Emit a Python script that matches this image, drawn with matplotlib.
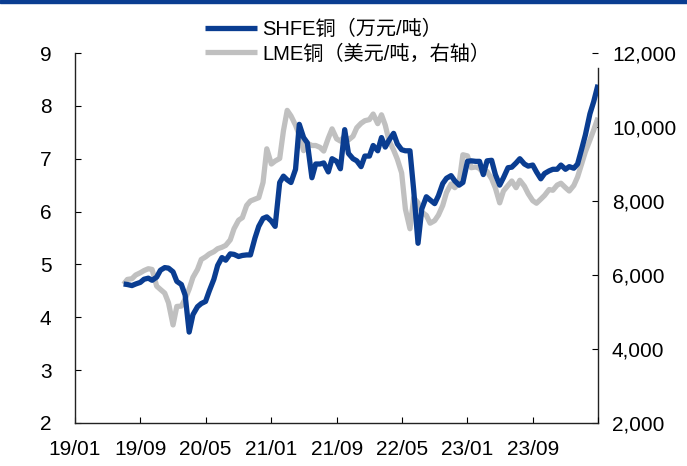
import matplotlib
matplotlib.use('Agg')
import matplotlib.pyplot as plt
import matplotlib.patches as mpatches
import pandas as pd

plt.rcParams['font.family'] = ['Liberation Sans', 'Noto Sans CJK SC']

# 半月数据 2019-07 ~ 2024-05
dates = pd.date_range('2019-07-01', '2024-05-01', freq='SMS')

# SHFE铜 (万元/吨)
shfe = [4.63, 4.62, 4.60, 4.63, 4.66, 4.72, 4.74, 4.70, 4.76, 4.89, 4.94, 4.93,
        4.86, 4.68, 4.62, 4.42, 3.72, 4.05, 4.20, 4.26, 4.30, 4.50, 4.72, 4.98,
        5.13, 5.08, 5.20, 5.19, 5.15, 5.17, 5.18, 5.18, 5.50, 5.72, 5.87, 5.90,
        5.82, 5.72, 6.55, 6.67, 6.60, 6.55, 6.80, 7.65, 7.40, 7.30, 6.64, 6.90,
        6.90, 6.92, 6.75, 7.00, 6.95, 6.81, 7.55, 7.10, 7.00, 6.96, 6.85, 7.05,
        7.05, 7.25, 7.15, 7.40, 7.22, 7.35, 7.48, 7.28, 7.17, 7.15, 7.15, 6.40,
        5.40, 6.05, 6.28, 6.22, 6.15, 6.30, 6.53, 6.63, 6.68, 6.58, 6.50, 6.55,
        6.95, 6.96, 6.95, 6.95, 6.70, 6.96, 6.97, 6.70, 6.50, 6.64, 6.83, 6.84,
        6.92, 7.00, 6.90, 6.86, 6.88, 6.75, 6.62, 6.72, 6.77, 6.80, 6.80, 6.88,
        6.80, 6.85, 6.82, 6.90, 7.18, 7.45, 7.85, 8.08, 8.40]

# LME铜 (美元/吨)
lme = [5750, 5880, 5900, 6000, 6060, 6120, 6170, 6150, 5700, 5610, 5510, 5250,
       4650, 5150, 5160, 5350, 5620, 5935, 6150, 6420, 6490, 6570, 6630, 6710,
       6750, 6800, 6950, 7250, 7480, 7550, 7880, 8000, 8050, 8090, 8500, 9410,
       9000, 9080, 9150, 9900, 10450, 10300, 10050, 9780, 9360, 9560, 9500, 9500,
       9450, 9350, 9700, 9950, 9680, 9620, 9760, 9650, 9750, 9980, 10100, 10170,
       10200, 10350, 10090, 10330, 10050, 9630, 9380, 9130, 8760, 7780, 7250, 8090,
       7950, 7700, 7610, 7400, 7470, 7620, 7880, 8230, 8460, 8360, 8500, 9250,
       9220, 8900, 8920, 8880, 8750, 8800, 8600, 8350, 7950, 8270, 8420, 8540,
       8360, 8560, 8400, 8200, 8010, 7940, 8050, 8150, 8310, 8290, 8430, 8480,
       8360, 8270, 8420, 8650, 9000, 9330, 9650, 9920, 10250]

xticks = pd.date_range('2019-01-01', '2024-05-01', freq='8MS')
xlabels = [d.strftime('%y/%m') for d in xticks[:-1]] + ['']

blue = '#0A3D91'
grey = '#C0C0C0'

fig = plt.figure(figsize=(6.87, 4.66), dpi=100)
ax = fig.add_axes([75 / 687, 43 / 466, 523 / 687, 370 / 466])
ax2 = ax.twinx()
ax.set_zorder(ax2.get_zorder() + 1)
ax.patch.set_visible(False)

l2, = ax2.plot(dates, lme, color=grey, lw=3.8, solid_capstyle='butt')
l1, = ax.plot(dates, shfe, color=blue, lw=3.8, solid_capstyle='butt')

ax.set_xlim(xticks[0], xticks[-1])
ax.set_ylim(2, 9)
ax2.set_ylim(2000, 12000)
ax.set_yticks(range(2, 10))
ax2.set_yticks(range(2000, 12001, 2000))
ax2.set_yticklabels([f'{v:,}' for v in range(2000, 12001, 2000)])
ax.set_xticks(xticks)
ax.set_xticklabels(xlabels)

for a in (ax, ax2):
    a.spines['top'].set_visible(False)
    for s in a.spines.values():
        s.set_linewidth(1.0)
        s.set_color('#222222')
ax.spines['right'].set_visible(False)
ax2.spines['left'].set_visible(False)
ax2.spines['bottom'].set_visible(False)
ax2.spines['right'].set_bounds(2000, 11600)

ax.tick_params(axis='y', direction='in', length=4, pad=17, labelsize=15)
ax.tick_params(axis='x', direction='in', length=4, pad=12, labelsize=15)
ax2.tick_params(axis='y', direction='in', length=4, pad=10, labelsize=15)

ax.legend([l1, l2], ['SHFE铜（万元/吨）', 'LME铜（美元/吨，右轴）'],
          loc='upper left', bbox_to_anchor=(205 / 687, 1 - 20 / 466),
          bbox_transform=fig.transFigure, frameon=False, fontsize=14.5,
          handlelength=2.6, handletextpad=0.25, labelspacing=0.25,
          borderpad=0, borderaxespad=0)

# 顶部蓝色横条
fig.patches.append(mpatches.Rectangle((0, 1 - 3 / 466), 1, 3 / 466,
                                      transform=fig.transFigure, color=blue))

fig.savefig('out.png', dpi=100)
